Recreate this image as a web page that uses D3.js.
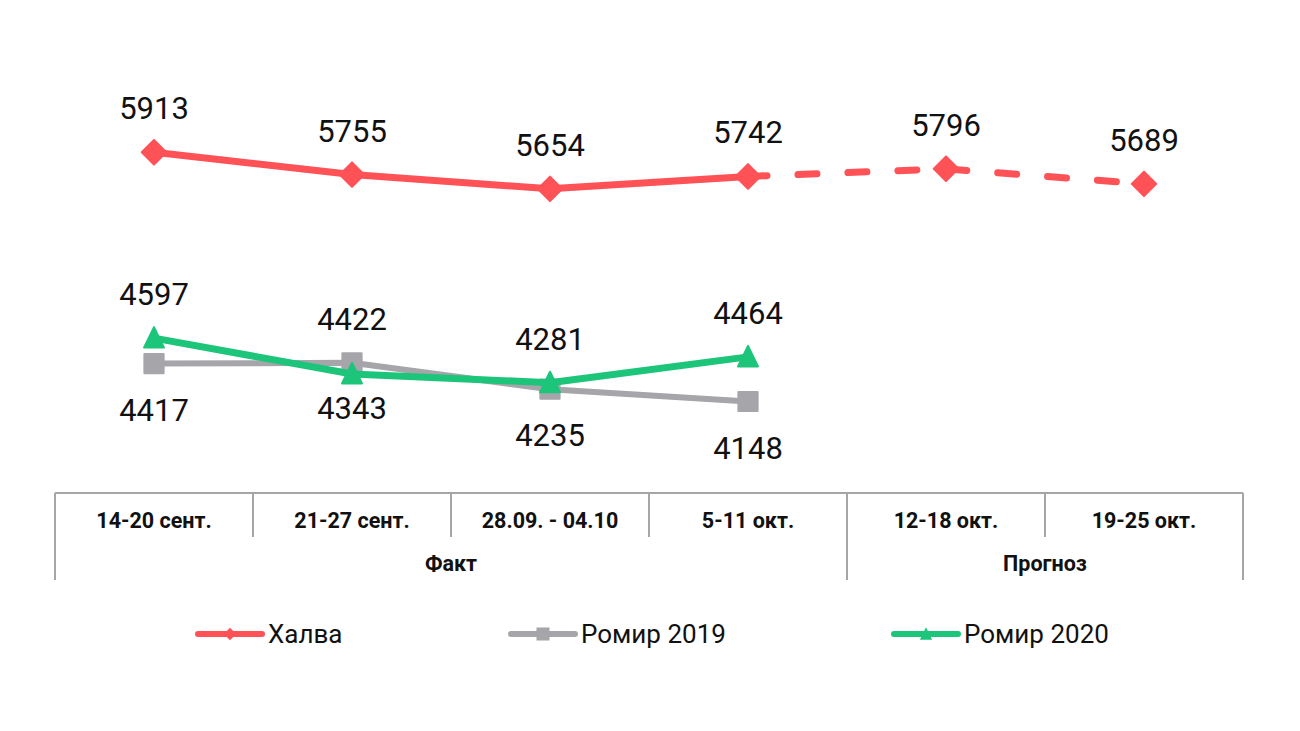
<!DOCTYPE html>
<html lang="ru">
<head>
    <meta charset="UTF-8">
    <title>Халва / Ромир</title>
    <script src="https://d3js.org/d3.v7.min.js"></script>
    <style>
        body { margin: 0; background: #fff; }
        svg { font-family: Roboto, "Noto Sans", sans-serif; }
        .value { font-size: 31px; fill: #111; }
        .cat { font-size: 21.5px; font-weight: bold; fill: #111; }
        .legend text { font-size: 26px; fill: #111; }
    </style>
</head>
<body>
<svg width="1300" height="731"></svg>
<script>

    // data
    const weeks = ["14-20 сент.", "21-27 сент.", "28.09. - 04.10", "5-11 окт.", "12-18 окт.", "19-25 окт."];
    const groups = ["Факт", "Прогноз"];
    const groupSpan = [[0, 3], [4, 5]];

    const halva = [5913, 5755, 5654, 5742, 5796, 5689];
    const romir2019 = [4417, 4422, 4235, 4148];
    const romir2020 = [4597, 4343, 4281, 4464];

    // where each value label sits relative to its point
    const labelSide = {
        halva:     ["up", "up", "up", "up", "up", "up"],
        romir2019: ["down", "up", "down", "down"],
        romir2020: ["up", "down", "up", "up"]
    };

    const colors = { halva: "#ff5257", romir2019: "#a5a5aa", romir2020: "#1dc57b" };
    const axisColor = "#a6a6a6";

    const svg = d3.select("svg");

    const x = d3.scaleBand()
        .domain(weeks)
        .range([55, 1243])
        .padding(0);

    const y = d3.scaleLinear()
        .domain([3500, 6000])
        .range([493, 140]);

    const cx = i => x(weeks[i]) + x.bandwidth() / 2;

    // custom marker shapes
    const diamond = {
        draw(ctx, size) {
            const h = Math.sqrt(size) / 2;
            ctx.moveTo(0, -h); ctx.lineTo(h, 0); ctx.lineTo(0, h); ctx.lineTo(-h, 0); ctx.closePath();
        }
    };
    const triangle = {
        draw(ctx, size) {
            const w = Math.sqrt(size) / 2;
            ctx.moveTo(0, -w * 1.1); ctx.lineTo(w, w * 0.95); ctx.lineTo(-w, w * 0.95); ctx.closePath();
        }
    };

    // axis ==================================================
    const axis = svg.append("g");
    const catTop = 493, catBottom = 537, grpBottom = 580;

    axis.append("line")
        .attr("x1", x.range()[0]).attr("x2", x.range()[1])
        .attr("y1", catTop).attr("y2", catTop);

    // separators between weeks
    weeks.forEach((w, i) => {
        axis.append("line")
            .attr("x1", x(w)).attr("x2", x(w))
            .attr("y1", catTop).attr("y2", catBottom);
    });
    axis.append("line")
        .attr("x1", x.range()[1]).attr("x2", x.range()[1])
        .attr("y1", catTop).attr("y2", grpBottom);

    // group boundaries
    groupSpan.forEach(s => {
        const x0 = x(weeks[s[0]]);
        axis.append("line")
            .attr("x1", x0).attr("x2", x0)
            .attr("y1", catBottom).attr("y2", grpBottom);
    });

    axis.selectAll("line")
        .attr("stroke", axisColor)
        .attr("stroke-width", 2);

    axis.selectAll(".cat-week")
        .data(weeks)
        .enter()
        .append("text")
        .attr("class", "cat")
        .attr("x", (d, i) => cx(i))
        .attr("y", 528)
        .attr("text-anchor", "middle")
        .text(d => d);

    axis.selectAll(".cat-group")
        .data(groups)
        .enter()
        .append("text")
        .attr("class", "cat")
        .attr("x", (d, i) => (x(weeks[groupSpan[i][0]]) + x(weeks[groupSpan[i][1]]) + x.bandwidth()) / 2)
        .attr("y", 571)
        .attr("text-anchor", "middle")
        .text(d => d);

    // lines ==================================================
    const line = d3.line()
        .x((d, i) => cx(d.i))
        .y(d => y(d.v));

    const pts = arr => arr.map((v, i) => ({ v: v, i: i }));

    function drawSeries(key, values, shape, size, width, lastFact) {
        const g = svg.append("g");
        const p = pts(values);
        g.append("path")
            .attr("d", line(p.slice(0, lastFact + 1)))
            .attr("fill", "none")
            .attr("stroke", colors[key])
            .attr("stroke-width", width)
            .attr("stroke-linejoin", "round")
            .attr("stroke-linecap", "round");
        if (lastFact < p.length - 1) {
            g.append("path")
                .attr("d", line(p.slice(lastFact)))
                .attr("fill", "none")
                .attr("stroke", colors[key])
                .attr("stroke-width", width)
                .attr("stroke-dasharray", "19,31")
                .attr("stroke-linecap", "round");
        }
        g.selectAll("path.marker")
            .data(p)
            .enter()
            .append("path")
            .attr("class", "marker")
            .attr("d", d3.symbol().type(shape).size(size))
            .attr("transform", d => `translate(${cx(d.i)},${y(d.v)})`)
            .attr("fill", colors[key])
            .attr("stroke", colors[key])
            .attr("stroke-width", 2)
            .attr("stroke-linejoin", "round");
        return g;
    }

    drawSeries("halva", halva, diamond, 600, 7, 3);
    drawSeries("romir2019", romir2019, d3.symbolSquare, 370, 6, 3);
    drawSeries("romir2020", romir2020, triangle, 400, 7, 3);

    // value labels
    const below = { halva: 50, romir2019: 57, romir2020: 45 };
    function labels(key, values) {
        svg.append("g")
            .selectAll("text")
            .data(values)
            .enter()
            .append("text")
            .attr("class", "value")
            .attr("x", (d, i) => cx(i))
            .attr("y", (d, i) => y(d) + (labelSide[key][i] === "up" ? -33 : below[key]))
            .attr("text-anchor", "middle")
            .text(d => d);
    }
    labels("halva", halva);
    labels("romir2019", romir2019);
    labels("romir2020", romir2020);

    // legend ==================================================
    const legendItems = [
        { key: "halva", name: "Халва", shape: diamond, size: 160, x0: 198 },
        { key: "romir2019", name: "Ромир 2019", shape: d3.symbolSquare, size: 170, x0: 511 },
        { key: "romir2020", name: "Ромир 2020", shape: triangle, size: 150, x0: 894 }
    ];
    const ly = 634;
    const legend = svg.append("g").attr("class", "legend");
    legendItems.forEach(it => {
        legend.append("line")
            .attr("x1", it.x0).attr("x2", it.x0 + 64)
            .attr("y1", ly).attr("y2", ly)
            .attr("stroke", colors[it.key])
            .attr("stroke-width", 6)
            .attr("stroke-linecap", "round");
        legend.append("path")
            .attr("d", d3.symbol().type(it.shape).size(it.size))
            .attr("transform", `translate(${it.x0 + 32},${ly})`)
            .attr("fill", colors[it.key]);
        legend.append("text")
            .attr("x", it.x0 + 70)
            .attr("y", ly + 9)
            .text(it.name);
    });

</script>
</body>
</html>
